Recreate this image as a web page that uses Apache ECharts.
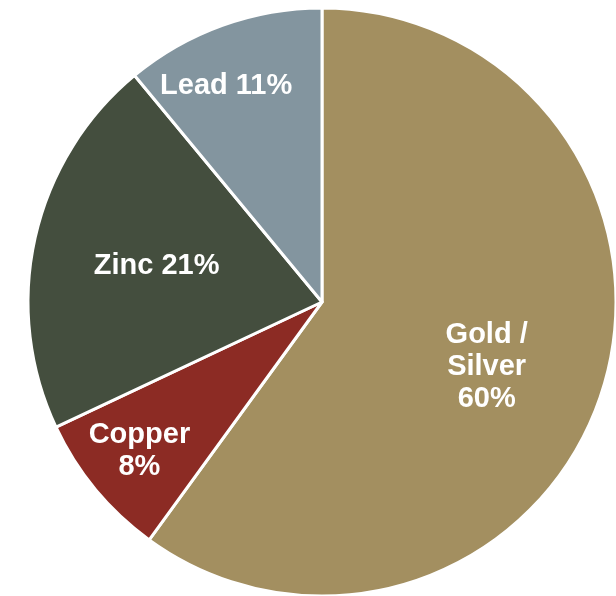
<!DOCTYPE html>
<html>
<head>
<meta charset="utf-8">
<script src="https://cdn.jsdelivr.net/npm/echarts@6/dist/echarts.min.js"></script>
<style>
html,body{margin:0;padding:0;background:#fff;}
#chart{width:616px;height:596px;}
</style>
</head>
<body>
<div id="chart"></div>
<script>
const categories = ['Gold / Silver', 'Copper', 'Zinc', 'Lead'];
const values = [60, 8, 21, 11];
const colors = ['#A38F60', '#8C2B24', '#444E3E', '#83959F'];
// how each label's name is broken into lines, and whether the value goes on its own line
const nameLines = [['Gold /', 'Silver'], ['Copper'], ['Zinc'], ['Lead']];
const valueOnNewLine = [true, true, false, false];
// label nudges from the default inside position
const labelShift = [[22, 19], [-67, 53], [-19, -3], [-45, -75]];

const chart = echarts.init(document.getElementById('chart'));
chart.setOption({
  animation: false,
  series: [{
    type: 'pie',
    center: [322, 302],
    radius: 294,
    startAngle: 90,
    clockwise: true,
    avoidLabelOverlap: false,
    itemStyle: { borderColor: '#ffffff', borderWidth: 3 },
    label: {
      show: true,
      position: 'inside',
      color: '#ffffff',
      fontFamily: 'Liberation Sans, Arial, sans-serif',
      fontWeight: 'bold',
      fontSize: 29,
      lineHeight: 32,
      align: 'center',
      formatter: function (p) {
        const i = p.dataIndex;
        const nm = nameLines[i].join('\n');
        return valueOnNewLine[i] ? nm + '\n' + p.value + '%' : nm + ' ' + p.value + '%';
      }
    },
    labelLine: { show: false },
    emphasis: { disabled: true },
    labelLayout: function (params) {
      const s = labelShift[params.dataIndex];
      return { dx: s[0], dy: s[1] };
    },
    data: categories.map((c, i) => ({ name: c, value: values[i], itemStyle: { color: colors[i] } }))
  }]
});
</script>
</body>
</html>
